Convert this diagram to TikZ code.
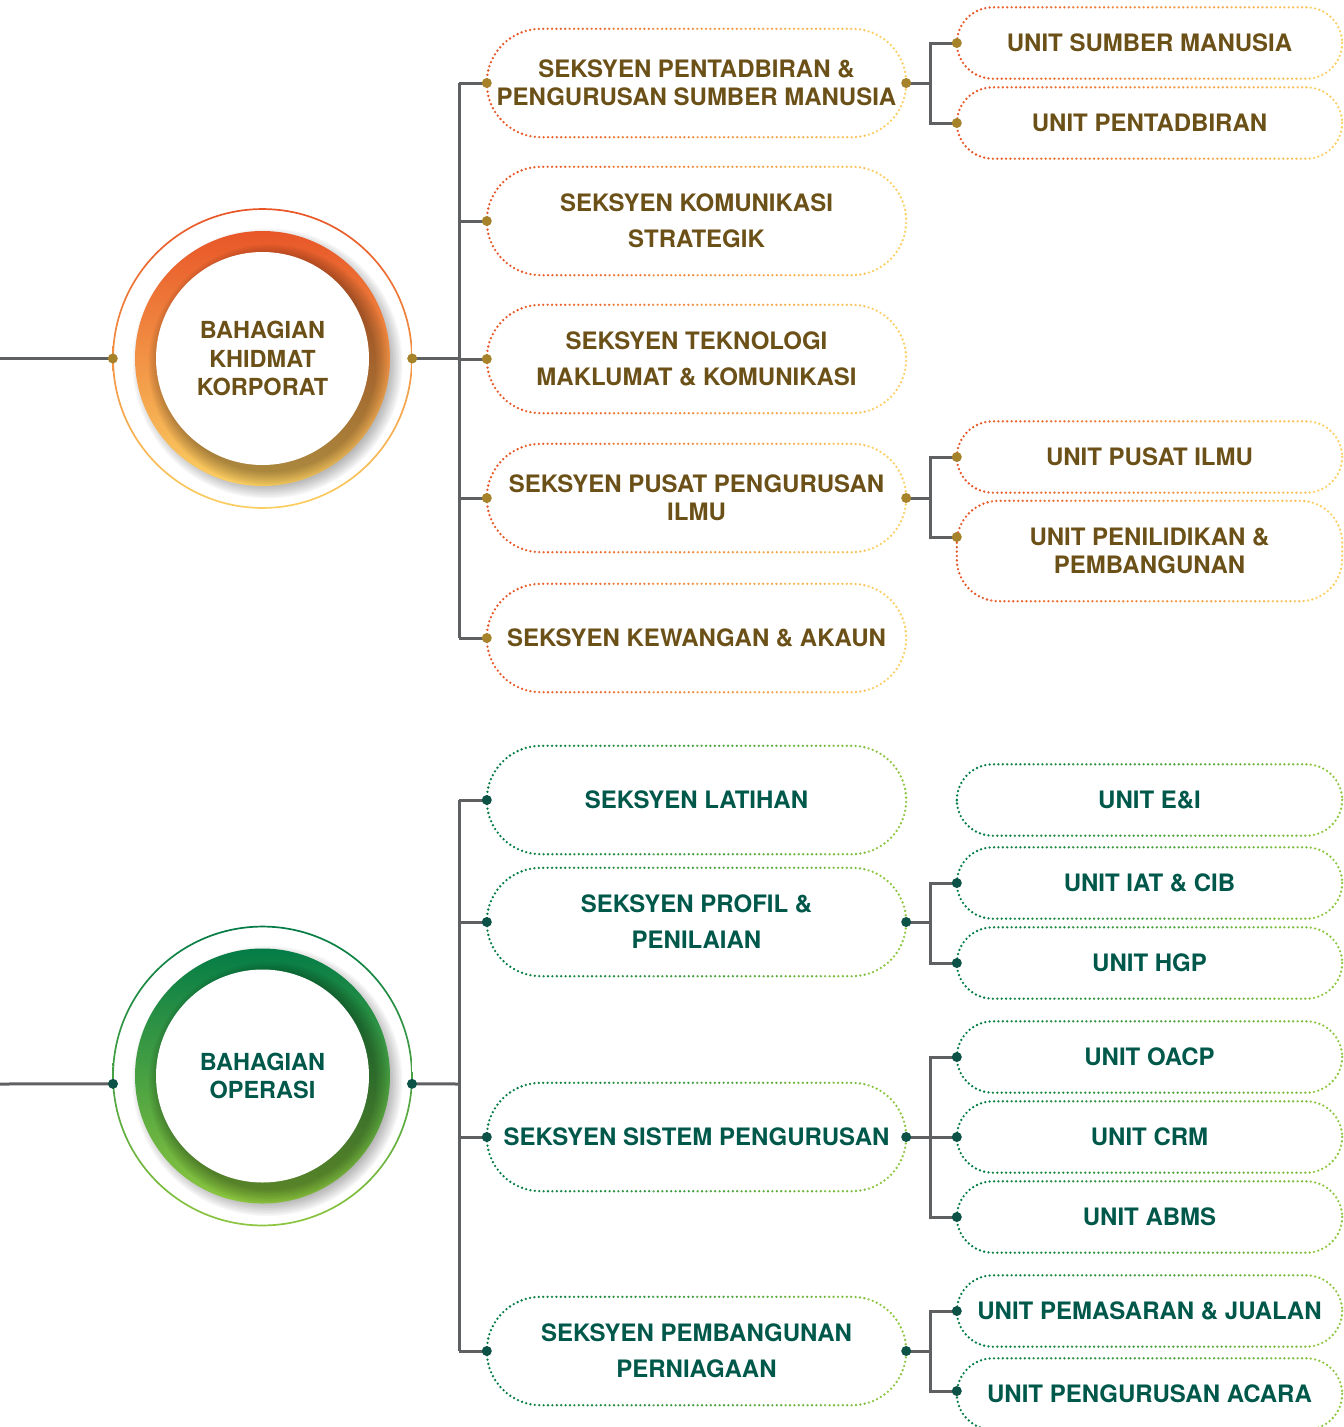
\documentclass[tikz,border=0pt]{standalone}
\usepackage{fontspec}
\setmainfont{TeX Gyre Heros}
\usetikzlibrary{calc}

\definecolor{korpText}{RGB}{107,80,24}
\definecolor{korpDot}{RGB}{166,130,42}
\definecolor{korpRed}{RGB}{232,86,40}
\definecolor{korpMid}{RGB}{240,140,58}
\definecolor{korpYel}{RGB}{251,207,98}
\definecolor{opsText}{RGB}{0,88,74}
\definecolor{opsDot}{RGB}{12,82,70}
\definecolor{opsDark}{RGB}{4,124,70}
\definecolor{opsMid}{RGB}{52,150,72}
\definecolor{opsLight}{RGB}{141,198,63}
\definecolor{linkGray}{RGB}{95,96,98}

\tikzset{
  sec/.style={rectangle, minimum width=419pt, minimum height=108pt, inner sep=0pt,
    align=center, font=\fontsize{24}{28}\selectfont\bfseries},
  wide/.style={font=\fontsize{24}{36}\selectfont\bfseries},
  unit/.style={sec, minimum width=385pt, minimum height=71pt},
  hub/.style={circle, minimum size=299pt, inner sep=0pt, align=center,
    font=\fontsize{23.5}{28.5}\selectfont\bfseries},
  link/.style={draw=linkGray, line width=3pt},
  dotline/.style={line width=2.6pt, dash pattern=on 0pt off 4.4pt, line cap=round}
}

% dotted rim of a pill, left colour fading into right colour
\newcommand{\pillrim}[4]{%
  \path ($(#1.north west)+(-5,-10)$) coordinate (pA) ($(#1.south east)+(5,10)$) coordinate (pB);
  \foreach \k in {0,...,9}{
    \pgfmathsetmacro{\fa}{\k/10}
    \pgfmathsetmacro{\fb}{(\k+1)/10}
    \pgfmathtruncatemacro{\mix}{100-\k*100/9}
    \begin{scope}
      \clip ($(pA)!\fa!(pA-|pB)$) rectangle ($(pB-|pA)!\fb!(pB)$);
      \draw[dotline, draw=#2!\mix!#3, rounded corners=#4] (#1.north west) rectangle (#1.south east);
    \end{scope}}}

% ring with soft shadow round a hub centre
\newcommand{\hubring}[4]{%
  \foreach \r in {0,...,9}
    \fill[black, opacity=0.035] ($(#1)+(5,5)$) circle ({135-\r*1.6});
  \shade[top color=#2, middle color=#3, bottom color=#4] (#1) circle (127.5);
  \begin{scope}
    \clip (#1) circle (127.5);
    \foreach \r in {0,...,9}
      \fill[black, opacity=0.035] ($(#1)+(7,7)$) circle ({121-\r*1.6});
  \end{scope}
  \fill[white] (#1) circle (106.5);
  \shade[top color=#2, bottom color=#4, even odd rule] (#1) circle (150.3) circle (148.6);
}

\begin{document}
\begin{tikzpicture}[x=1pt, y=-1pt]
\clip (0,0) rectangle (1344,1427);

% Bahagian Khidmat Korporat
\coordinate (c1) at (262.5,358.5);
\hubring{c1}{korpRed}{korpMid}{korpYel}
\node[hub, text=korpText] (k1) at (c1) {BAHAGIAN\\KHIDMAT\\KORPORAT};

\node[sec, text=korpText] (s1) at (696.5,83) {SEKSYEN PENTADBIRAN \&\\PENGURUSAN SUMBER MANUSIA};
\node[sec, wide, text=korpText] (s2) at (696.5,221) {SEKSYEN KOMUNIKASI\\STRATEGIK};
\node[sec, wide, text=korpText] (s3) at (696.5,359) {SEKSYEN TEKNOLOGI\\MAKLUMAT \& KOMUNIKASI};
\node[sec, text=korpText] (s4) at (696.5,498) {SEKSYEN PUSAT PENGURUSAN\\ILMU};
\node[sec, text=korpText] (s5) at (696.5,638) {SEKSYEN KEWANGAN \& AKAUN};

\node[unit, text=korpText] (u1) at (1149.5,43) {UNIT SUMBER MANUSIA};
\node[unit, text=korpText] (u2) at (1149.5,123) {UNIT PENTADBIRAN};
\node[unit, text=korpText] (u3) at (1149.5,457) {UNIT PUSAT ILMU};
\node[unit, text=korpText, minimum height=100pt] (u4) at (1149.5,551) {UNIT PENILIDIKAN \&\\PEMBANGUNAN};

\foreach \n in {s1,s2,s3,s4,s5} {\pillrim{\n}{korpRed}{korpYel}{54}}
\foreach \n in {u1,u2,u3} {\pillrim{\n}{korpRed}{korpYel}{36}}
\pillrim{u4}{korpRed}{korpYel}{42}

\coordinate (in1) at (0,358.5);
\coordinate (t1) at (459,358.5);
\draw[link] (in1) -- (k1.west);
\draw[link] (k1.east) -- (t1);
\draw[link] (t1 |- s1.west) -- (t1 |- s5.west);
\foreach \n in {s1,s2,s3,s4,s5} {\draw[link] (\n.west) -- (t1 |- \n.west);}
\draw[link] (s1.east) -- ++(24,0) |- (u1.west);
\draw[link] (s1.east) -- ++(24,0) |- (u2.west);
\draw[link] (s4.east) -- ++(24,0) |- (u3.west);
\draw[link] (s4.east) -- ++(24,0) |- ([yshift=14pt]u4.west);

\foreach \p in {k1.west,k1.east,s1.west,s2.west,s3.west,s4.west,s5.west,s1.east,s4.east,u1.west,u2.west,u3.west}
  {\fill[korpDot] (\p) circle (5);}
\fill[korpDot] ([yshift=14pt]u4.west) circle (5);

% Bahagian Operasi
\coordinate (c2) at (262.5,1076);
\hubring{c2}{opsDark}{opsMid}{opsLight}
\node[hub, text=opsText] (k2) at (c2) {BAHAGIAN\\OPERASI};

\node[sec, text=opsText] (g1) at (696.5,800) {SEKSYEN LATIHAN};
\node[sec, wide, text=opsText] (g2) at (696.5,922) {SEKSYEN PROFIL \&\\PENILAIAN};
\node[sec, text=opsText] (g3) at (696.5,1137) {SEKSYEN SISTEM PENGURUSAN};
\node[sec, wide, text=opsText] (g4) at (696.5,1351) {SEKSYEN PEMBANGUNAN\\PERNIAGAAN};

\node[unit, text=opsText] (v1) at (1149.5,800) {UNIT E\&I};
\node[unit, text=opsText] (v2) at (1149.5,883) {UNIT IAT \& CIB};
\node[unit, text=opsText] (v3) at (1149.5,963) {UNIT HGP};
\node[unit, text=opsText] (v4) at (1149.5,1057) {UNIT OACP};
\node[unit, text=opsText] (v5) at (1149.5,1137) {UNIT CRM};
\node[unit, text=opsText] (v6) at (1149.5,1217) {UNIT ABMS};
\node[unit, text=opsText] (v7) at (1149.5,1311) {UNIT PEMASARAN \& JUALAN};
\node[unit, text=opsText] (v8) at (1149.5,1394) {UNIT PENGURUSAN ACARA};

\foreach \n in {g1,g2,g3,g4} {\pillrim{\n}{opsDark}{opsLight}{54}}
\foreach \n in {v1,v2,v3,v4,v5,v6,v7,v8} {\pillrim{\n}{opsDark}{opsLight}{36}}

\coordinate (in2) at (0,1084);
\coordinate (t2) at (459,1084);
\draw[link] (in2) -- (k2.183);
\draw[link] (k2.-3) -- (t2);
\draw[link] (t2 |- g1.west) -- (t2 |- g4.west);
\foreach \n in {g1,g2,g3,g4} {\draw[link] (\n.west) -- (t2 |- \n.west);}
\draw[link] (g2.east) -- ++(24,0) |- (v2.west);
\draw[link] (g2.east) -- ++(24,0) |- (v3.west);
\draw[link] (g3.east) -- ++(24,0) |- (v4.west);
\draw[link] (g3.east) -- (v5.west);
\draw[link] (g3.east) -- ++(24,0) |- (v6.west);
\draw[link] (g4.east) -- ++(24,0) |- (v7.west);
\draw[link] (g4.east) -- ++(24,0) |- ([yshift=3pt]v8.west);

\foreach \p in {k2.183,k2.-3,g1.west,g2.west,g3.west,g4.west,g2.east,g3.east,g4.east,v2.west,v3.west,v4.west,v5.west,v6.west,v7.west}
  {\fill[opsDot] (\p) circle (5);}
\fill[opsDot] ([yshift=3pt]v8.west) circle (5);
\end{tikzpicture}
\end{document}
